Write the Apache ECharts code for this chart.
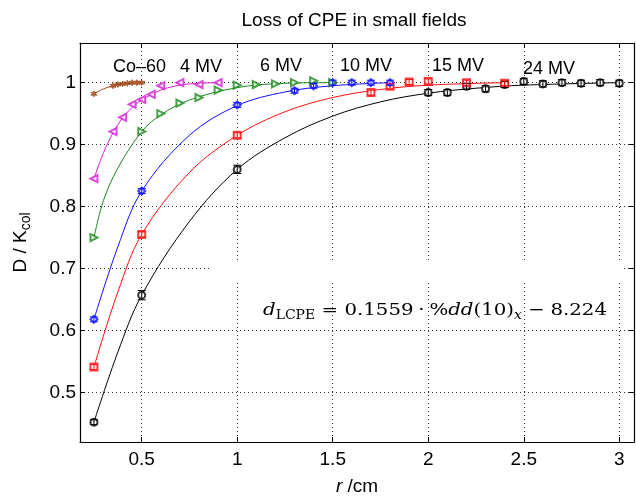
<!DOCTYPE html>
<html>
<head>
<meta charset="utf-8">
<script src="https://cdn.jsdelivr.net/npm/echarts@6/dist/echarts.min.js"></script>
<style>html,body{margin:0;padding:0;background:#fff}#c{width:636px;height:501px}</style>
</head>
<body>
<div id="c"></div>
<script>
// ---- data ----
var co60X = [0.25, 0.35, 0.375, 0.4, 0.425, 0.45, 0.475, 0.5];
var co60Y = [0.982, 0.995, 0.997, 0.998, 0.999, 1.0, 1.0, 1.0];
var mv4X = [0.25, 0.35, 0.4, 0.45, 0.5, 0.55, 0.6, 0.7, 0.8, 0.9];
var mv4Y = [0.845, 0.921, 0.944, 0.965, 0.973, 0.981, 0.995, 1.0, 0.997, 1.0];
var mv6X = [0.25, 0.5, 0.6, 0.7, 0.8, 0.9, 1.0, 1.1, 1.2, 1.3, 1.4, 1.5];
var mv6Y = [0.750, 0.921, 0.950, 0.967, 0.976, 0.988, 0.996, 0.997, 0.998, 1.0, 1.003, 1.0];
var mv10X = [0.25, 0.5, 1.0, 1.3, 1.4, 1.5, 1.6, 1.7, 1.8];
var mv10Y = [0.618, 0.825, 0.964, 0.987, 0.995, 1.0, 1.0, 1.0, 1.0];
var mv10E = [0.004, 0.004, 0.004, 0.004, 0.004, 0.004, 0.004, 0.004, 0.004];
var mv15X = [0.25, 0.5, 1.0, 1.7, 1.8, 1.9, 2.0, 2.2, 2.4];
var mv15Y = [0.541, 0.755, 0.915, 0.984, 0.994, 1.001, 1.002, 1.0, 0.999];
var mv15E = [0.004, 0.004, 0.004, 0.004, 0.004, 0.004, 0.004, 0.004, 0.004];
var mv24X = [0.25, 0.5, 1.0, 2.0, 2.1, 2.2, 2.3, 2.4, 2.5, 2.6, 2.7, 2.8, 2.9, 3.0];
var mv24Y = [0.452, 0.657, 0.860, 0.984, 0.984, 0.994, 0.990, 0.997, 1.002, 0.998, 1.0, 0.999, 1.0, 0.999];
var mv24E = [0.004, 0.0075, 0.0067, 0.005, 0.005, 0.005, 0.005, 0.005, 0.005, 0.005, 0.005, 0.005, 0.005, 0.005];

// fitted curves
var fitCoX = [0.25, 0.3, 0.35, 0.4, 0.45, 0.5];
var fitCoY = [0.982, 0.990, 0.995, 0.998, 0.999, 1.0];
var fit4X = [0.25, 0.3, 0.35, 0.4, 0.45, 0.5, 0.6, 0.7, 0.8, 0.9];
var fit4Y = [0.845, 0.887, 0.919, 0.943, 0.960, 0.972, 0.988, 0.996, 0.999, 1.0];
var fit6X = [0.25, 0.3, 0.375, 0.5, 0.6, 0.75, 1.0, 1.25, 1.5];
var fit6Y = [0.750, 0.810, 0.862, 0.921, 0.948, 0.972, 0.992, 0.999, 1.0];
var fit10X = [0.25, 0.375, 0.5, 0.75, 1.0, 1.25, 1.5, 1.8];
var fit10Y = [0.618, 0.735, 0.825, 0.915, 0.963, 0.985, 0.995, 1.0];
var fit15X = [0.25, 0.375, 0.5, 0.75, 1.0, 1.25, 1.5, 1.75, 2.0, 2.4];
var fit15Y = [0.541, 0.662, 0.755, 0.855, 0.915, 0.953, 0.976, 0.989, 0.996, 1.0];
var fit24X = [0.25, 0.375, 0.5, 0.75, 1.0, 1.25, 1.5, 1.75, 2.0, 2.25, 2.5, 3.0];
var fit24Y = [0.452, 0.565, 0.657, 0.776, 0.860, 0.911, 0.946, 0.969, 0.983, 0.991, 0.996, 1.0];

var xMin = 0.177, xMax = 3.077, yMin = 0.42, yMax = 1.064;
var xTickLabels = ['0.5', '1', '1.5', '2', '2.5', '3'];
var yTickLabels = ['0.5', '0.6', '0.7', '0.8', '0.9', '1'];
var curveLabels = ['Co\u201260', '4 MV', '6 MV', '10 MV', '15 MV', '24 MV'];

var FONT = 'Liberation Sans';

function zip(a, b) { return a.map(function (v, i) { return [v, b[i]]; }); }
function zip3(a, b, c) { return a.map(function (v, i) { return [v, b[i], c[i]]; }); }

var colors = { co: '#a34a1e', m4: '#d41cd4', m6: '#1a8a1a', m10: '#1010ff', m15: '#ff1010', m24: '#000000' };

function fitLine(name, xs, ys, color) {
  return { type: 'line', name: name, data: zip(xs, ys), smooth: 0.35, symbol: 'none',
    lineStyle: { color: color, width: 1 }, z: 2, silent: true };
}
function points(name, xs, ys, symbol, size, color, rotate) {
  return { type: 'scatter', name: name, data: zip(xs, ys), symbol: symbol, symbolSize: size,
    symbolRotate: rotate || 0,
    itemStyle: { color: color, borderColor: color, borderWidth: 1 }, z: 4, silent: true };
}
function errBars(name, xs, ys, es, color) {
  return { type: 'custom', name: name, data: zip3(xs, ys, es), z: 5, silent: true,
    renderItem: function (params, api) {
      var x = api.value(0), y = api.value(1), e = api.value(2);
      var p1 = api.coord([x, y + e]), p2 = api.coord([x, y - e]);
      var w = 4;
      var st = { stroke: color, lineWidth: 1, fill: null };
      return { type: 'group', children: [
        { type: 'line', shape: { x1: p1[0], y1: p1[1], x2: p2[0], y2: p2[1] }, style: st },
        { type: 'line', shape: { x1: p1[0] - w, y1: p1[1], x2: p1[0] + w, y2: p1[1] }, style: st },
        { type: 'line', shape: { x1: p2[0] - w, y1: p2[1], x2: p2[0] + w, y2: p2[1] }, style: st }
      ] };
    } };
}

var star = 'path://M0,-10 L2.2,-3.8 L8.7,-5 L4.4,0 L8.7,5 L2.2,3.8 L0,10 L-2.2,3.8 L-8.7,5 L-4.4,0 L-8.7,-5 L-2.2,-3.8 Z';

// ---- formula (laid out piece by piece, stretched to the reference width) ----
var formulaPieces = [
  ['d', 'i', 0], ['LCPE', 's', 0], ['=', 'n', 0.32], ['0.1559', 'n', 0.32], ['\u00b7', 'n', 0.24],
  ['%', 'n', 0.24], ['dd', 'i', 0], ['(10)', 'n', 0], ['x', 'si', 0], ['\u2212', 'n', 0.3], ['8.224', 'n', 0.3]
];
function buildFormula() {
  var base = 17, sub = 12;
  var fonts = {
    n: base + 'px "DejaVu Serif"', i: 'italic ' + base + 'px "DejaVu Serif"',
    s: sub + 'px "DejaVu Serif"', si: 'italic ' + sub + 'px "DejaVu Serif"'
  };
  var ctx = document.createElement('canvas').getContext('2d');
  var cur = 0, items = [];
  formulaPieces.forEach(function (p) {
    cur += p[2] * base;
    ctx.font = fonts[p[1]];
    var w = ctx.measureText(p[0]).width;
    items.push({ t: p[0], f: fonts[p[1]], x: cur, sub: p[1].charAt(0) === 's' });
    cur += w;
  });
  var x0 = 263, x1 = 607, sc = (x1 - x0) / cur;
  return items.map(function (it) {
    return { type: 'text', x: x0 + it.x * sc, y: it.sub ? 316 : 311, scaleX: sc, silent: true,
      style: { text: it.t, font: it.f, fill: '#000', align: 'left', verticalAlign: 'middle' } };
  });
}

var gridStyle = { show: true, lineStyle: { color: '#333', width: 1, type: [1, 3] } };
var axisLineStyle = { show: true, lineStyle: { color: '#000', width: 1.2 } };
var tickStyle = { inside: true, length: 5, lineStyle: { color: '#000' } };

var labelPos = [[113, 67], [180, 67], [260, 66], [340, 66], [432, 66], [523, 69]];
var graphics = [
  { type: 'rect', shape: { x: 209, y: 263, width: 414, height: 20 }, style: { fill: '#fff' }, z: 1, silent: true },
  { type: 'text', x: 354, y: 21, style: { text: 'Loss of CPE in small fields', font: '19px "Liberation Sans"', fill: '#000', align: 'center', verticalAlign: 'middle' } }
];
curveLabels.forEach(function (t, i) {
  graphics.push({ type: 'text', x: labelPos[i][0], y: labelPos[i][1],
    style: { text: t, font: '18px "Liberation Sans"', fill: '#000', align: 'left', verticalAlign: 'middle' } });
});
graphics = graphics.concat(buildFormula());

var chart = echarts.init(document.getElementById('c'), null, { renderer: 'canvas' });
chart.setOption({
  backgroundColor: '#fff',
  animation: false,
  grid: { left: 80, right: 2, top: 43, bottom: 59, containLabel: false },
  xAxis: [
    { type: 'value', min: xMin, max: xMax, position: 'bottom',
      axisLine: axisLineStyle, axisTick: tickStyle,
      axisLabel: { color: '#000', fontFamily: FONT, fontSize: 19, margin: 8, showMinLabel: false, showMaxLabel: false,
        formatter: function (v) { var s = String(+v.toFixed(2)); return xTickLabels.indexOf(s) >= 0 ? s : ''; } },
      splitLine: gridStyle,
      name: '{i|r} /cm', nameLocation: 'middle', nameGap: 35,
      nameTextStyle: { color: '#000', fontFamily: FONT, fontSize: 19, rich: { i: { fontStyle: 'italic', fontFamily: FONT, fontSize: 19, color: '#000' } } } },
    { type: 'value', min: xMin, max: xMax, position: 'top',
      axisLine: axisLineStyle, axisTick: tickStyle,
      axisLabel: { show: false }, splitLine: { show: false } }
  ],
  yAxis: [
    { type: 'value', min: yMin, max: yMax, position: 'left',
      axisLine: axisLineStyle, axisTick: tickStyle,
      axisLabel: { color: '#000', fontFamily: FONT, fontSize: 19, margin: 4, showMinLabel: false, showMaxLabel: false,
        formatter: function (v) { var s = String(+v.toFixed(2)); return yTickLabels.indexOf(s) >= 0 ? s : ''; } },
      splitLine: gridStyle,
      name: 'D / K{s|col}', nameLocation: 'middle', nameGap: 47,
      nameTextStyle: { color: '#000', fontFamily: FONT, fontSize: 19, rich: { s: { fontFamily: FONT, fontSize: 14, color: '#000', padding: [10, 0, 0, 0] } } } },
    { type: 'value', min: yMin, max: yMax, position: 'right',
      axisLine: axisLineStyle, axisTick: tickStyle,
      axisLabel: { show: false }, splitLine: { show: false } }
  ],
  series: [
    fitLine('fit24', fit24X, fit24Y, colors.m24),
    fitLine('fit15', fit15X, fit15Y, colors.m15),
    fitLine('fit10', fit10X, fit10Y, colors.m10),
    fitLine('fit6', fit6X, fit6Y, colors.m6),
    fitLine('fit4', fit4X, fit4Y, colors.m4),
    fitLine('fitCo', fitCoX, fitCoY, colors.co),
    points('24 MV', mv24X, mv24Y, 'emptyCircle', 7, colors.m24),
    errBars('e24', mv24X, mv24Y, mv24E, colors.m24),
    points('15 MV', mv15X, mv15Y, 'emptyRect', 7, colors.m15),
    errBars('e15', mv15X, mv15Y, mv15E, colors.m15),
    points('10 MV', mv10X, mv10Y, 'emptyDiamond', 7, colors.m10),
    errBars('e10', mv10X, mv10Y, mv10E, colors.m10),
    points('6 MV', mv6X, mv6Y, 'emptyTriangle', 7, colors.m6, -90),
    points('4 MV', mv4X, mv4Y, 'emptyTriangle', 7, colors.m4, 90),
    points('Co-60', co60X, co60Y, star, 6, colors.co)
  ],
  graphic: graphics
});
</script>
</body>
</html>
